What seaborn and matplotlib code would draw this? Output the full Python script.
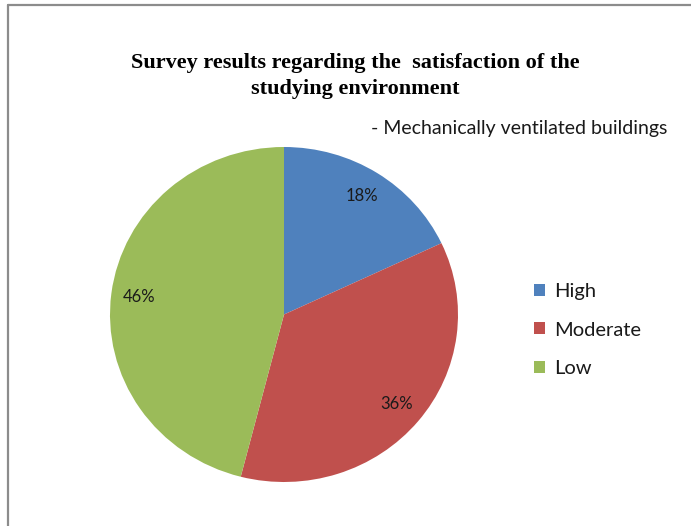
import matplotlib
matplotlib.use("Agg")
import matplotlib.pyplot as plt
import seaborn as sns
from matplotlib.lines import Line2D

# data
categories = ["High", "Moderate", "Low"]
shares = [18, 36, 46]
colors = ["#4F81BD", "#C0504D", "#9BBB59"]

sns.set_theme(style="white")
palette = sns.color_palette(colors)

fig = plt.figure(figsize=(6.91, 5.26), dpi=100)

# chart frame (only top and left edges visible in the reference)
fig.add_artist(Line2D([8 / 691, 8 / 691], [0, 1 - 5 / 526], color="#8c8c8c", lw=1.6))
fig.add_artist(Line2D([8 / 691, 1], [1 - 5 / 526, 1 - 5 / 526], color="#8c8c8c", lw=1.6))

# pie axes, slightly wider than tall like the original
ax = fig.add_axes([110 / 691, 1 - 482 / 526, 348 / 691, 335 / 526])
wedges, texts, autotexts = ax.pie(
    shares, colors=palette, startangle=90, counterclock=False,
    autopct="%1.0f%%", pctdistance=0.84,
    textprops=dict(family="Lato", fontsize=12, color="#1a1a1a"),
    wedgeprops=dict(linewidth=0),
)
ax.set_aspect("auto")
ax.set_xlim(-1, 1)
ax.set_ylim(-1, 1)
ax.axis("off")

fig.text(355 / 691, 1 - 76 / 526,
         "Survey results regarding the  satisfaction of the\nstudying environment",
         ha="center", va="center", family="Liberation Serif", fontweight="bold",
         fontsize=16, linespacing=1.4, color="black")
fig.text(667 / 691, 1 - 129 / 526, "- Mechanically ventilated buildings",
         ha="right", va="center", family="Lato", fontsize=14, color="#1a1a1a")

fig.legend(wedges, categories, loc="center left",
           bbox_to_anchor=(516 / 691, 1 - 330 / 526), frameon=False,
           prop=dict(family="Lato", size=14.5), handlelength=0.55,
           handleheight=0.55, handletextpad=0.45, labelspacing=1.08,
           labelcolor="#1a1a1a")

fig.savefig("out.png", dpi=100, facecolor="white")
